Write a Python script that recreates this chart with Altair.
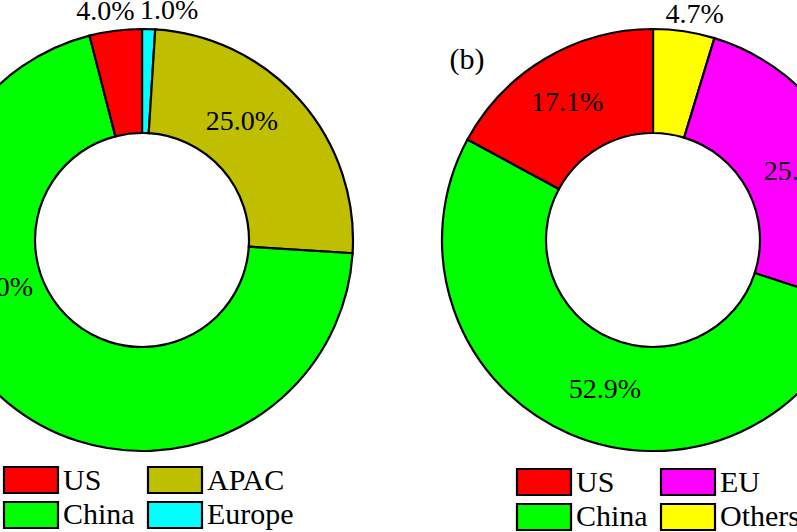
import altair as alt
import pandas as pd

# ---------------- data ----------------
left_regions = ["Europe", "APAC", "China", "US"]
left_pct = [1.0, 25.0, 70.0, 4.0]

right_regions = ["Others", "EU", "China", "US"]
right_pct = [4.7, 25.3, 52.9, 17.1]

legend_left = ["US", "APAC", "China", "Europe"]
legend_right = ["US", "EU", "China", "Others"]

color_domain = ["US", "China", "APAC", "Europe", "EU", "Others"]
color_range = ["#FF0000", "#00FF00", "#BFBF00", "#00FFFF", "#FF00FF", "#FFFF00"]

# ---------------- layout / style ----------------
FONT = "Liberation Serif"
W, H = 797, 532
R_IN, R_OUT = 107, 211
R_LAB, R_LAB_OUT = 160, 229
color_scale = alt.Scale(domain=color_domain, range=color_range)

# label nudges (pixels) relative to the slice-midpoint position
nudge_left = {"Europe": (20, 0), "APAC": (-20, -12), "China": (-43, -75), "US": (-8, -1)}
nudge_right = {"Others": (8, 2), "EU": (5, 6), "China": (15, 3), "US": (-4, 0)}


def cond_expr(nudges, idx):
    expr = "0"
    for k, v in nudges.items():
        expr = f'(datum.region == "{k}" ? {v[idx]} : {expr})'
    return expr


def donut(regions, pct, cx, cy, nudges):
    df = pd.DataFrame({"region": regions, "pct": pct, "order": list(range(len(regions)))})
    df["label"] = [f"{v:.1f}%" for v in pct]
    arcs = alt.Chart(df).mark_arc(
        innerRadius=R_IN, outerRadius=R_OUT, stroke="black", strokeWidth=2.2
    ).encode(
        theta=alt.Theta("pct:Q", stack=True),
        order=alt.Order("order:Q"),
        color=alt.Color("region:N", scale=color_scale, legend=None),
        x=alt.value(cx),
        y=alt.value(cy),
    )
    labels = alt.Chart(df).transform_window(
        cum="sum(pct)", sort=[alt.SortField("order")], frame=[None, 0]
    ).transform_calculate(
        ang="(datum.cum - datum.pct / 2) / 100 * 2 * PI"
    ).transform_calculate(
        rr=f"datum.pct < 6 ? {R_LAB_OUT} : {R_LAB}"
    ).transform_calculate(
        lx=f"{cx} + datum.rr * sin(datum.ang) + {cond_expr(nudges, 0)}"
    ).transform_calculate(
        ly=f"{cy} - datum.rr * cos(datum.ang) + {cond_expr(nudges, 1)}"
    ).mark_text(
        font=FONT, fontSize=28, baseline="middle", align="center", color="black"
    ).encode(
        x=alt.X("lx:Q", scale=None, axis=None),
        y=alt.Y("ly:Q", scale=None, axis=None),
        text="label:N",
    )
    return [arcs, labels]


def legend(entries, x0, y0, tx0, ty0):
    df = pd.DataFrame({"region": entries, "i": list(range(len(entries)))})
    base = alt.Chart(df).transform_calculate(
        col="datum.i % 2", row="floor(datum.i / 2)"
    ).transform_calculate(
        bx="%d + datum.col * 144" % x0,
        by="%d + datum.row * 35" % y0,
        tx="%d + datum.col * 144" % tx0,
        ty="%d + datum.row * 34" % ty0,
    ).transform_calculate(
        bx2="datum.bx + 54", by2="datum.by + 26"
    )
    boxes = base.mark_rect(stroke="black", strokeWidth=2.2).encode(
        x=alt.X("bx:Q", scale=None, axis=None),
        x2="bx2:Q",
        y=alt.Y("by:Q", scale=None, axis=None),
        y2="by2:Q",
        color=alt.Color("region:N", scale=color_scale, legend=None),
    )
    texts = base.mark_text(
        font=FONT, fontSize=30, align="left", baseline="alphabetic", color="black"
    ).encode(
        x=alt.X("tx:Q", scale=None, axis=None),
        y=alt.Y("ty:Q", scale=None, axis=None),
        text="region:N",
    )
    return [boxes, texts]


panel_b = alt.Chart(pd.DataFrame({"t": ["(b)"]})).mark_text(
    font=FONT, fontSize=30, align="center", baseline="alphabetic", color="black"
).encode(text="t:N", x=alt.value(467), y=alt.value(69))

layers = []
layers += donut(left_regions, left_pct, 142, 240, nudge_left)
layers += donut(right_regions, right_pct, 653, 240, nudge_right)
layers += legend(legend_left, 4, 467, 63, 490)
layers += legend(legend_right, 517, 469, 576, 492)
layers.append(panel_b)

chart = alt.layer(*layers).properties(
    width=W, height=H, autosize="none", padding=0, background="white"
).configure_view(stroke=None)

chart.save("out.html", embed_options={"renderer": "svg", "actions": False})
